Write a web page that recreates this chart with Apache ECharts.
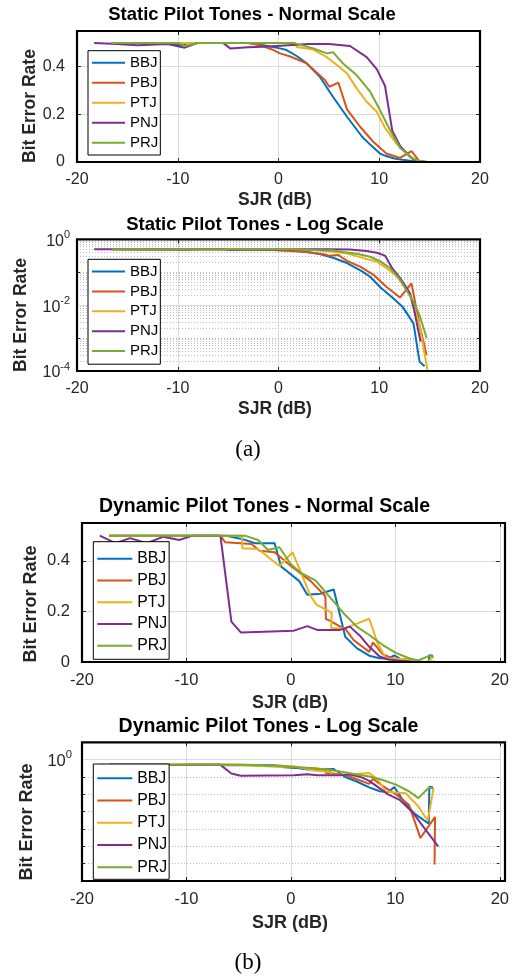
<!DOCTYPE html>
<html><head><meta charset="utf-8">
<script src="https://cdn.jsdelivr.net/npm/echarts@6/dist/echarts.min.js"></script>
<style>html,body{margin:0;padding:0;background:#fff}#c{width:512px;height:978px}</style>
</head><body><div id="c"></div>
<script>
// ---------------- DATA ----------------
const seriesNames = ['BBJ', 'PBJ', 'PTJ', 'PNJ', 'PRJ'];
const xTickValues = [-20, -10, 0, 10, 20];
const linTickValues = [0, 0.2, 0.4];
const linYMax = 0.55;
const staticLogRange = [1e-4, 1];
const staticLogLabelExps = [0, -2, -4];
const dynamicLogRange = [1e-7, 10];
const dynamicLogLabelExps = [0];

// Static pilot tones (SJR dB, BER)
const staticBBJ_sjr = [-16.6, -12, -9.5, -9, -6, -3, -1.5, 0.15, 0.8, 1.8, 2.8, 4.1, 5.4, 6.8, 8.3, 9.1, 10.1, 10.6, 11.5, 12.3, 13.4, 14.0, 14.5];
const staticBBJ_ber = [0.5, 0.5, 0.49, 0.5, 0.5, 0.5, 0.49, 0.477, 0.47, 0.445, 0.414, 0.358, 0.274, 0.19, 0.106, 0.073, 0.035, 0.026, 0.015, 0.009, 0.0028, 0.00019, 0.00014];
const staticPBJ_sjr = [-16.6, -10, -6, -3, -1.8, -0.5, 0.15, 1.1, 2.8, 4.6, 5.05, 5.95, 6.8, 8.1, 9.4, 10.7, 12.06, 13.2, 14.0, 14.7];
const staticPBJ_ber = [0.5, 0.5, 0.5, 0.5, 0.49, 0.47, 0.456, 0.444, 0.414, 0.344, 0.316, 0.333, 0.221, 0.148, 0.085, 0.036, 0.017, 0.046, 0.0025, 0.0003];
const staticPTJ_sjr = [-16.6, -8, 1.64, 1.8, 3.45, 4.8, 5.8, 6.8, 7.75, 8.75, 9.75, 10.6, 11.7, 13.05, 14.0, 14.8];
const staticPTJ_ber = [0.5, 0.5, 0.5, 0.483, 0.472, 0.44, 0.407, 0.372, 0.309, 0.253, 0.211, 0.141, 0.078, 0.022, 0.0025, 0.0001];
const staticPNJ_sjr = [-18.3, -16, -14, -11, -9.3, -8, -5.5, -4.8, -3, -1, 1, 3, 5, 7.1, 8.75, 9.75, 10.57, 11.3, 12.1, 13.05, 13.5, 14.1];
const staticPNJ_ber = [0.5, 0.495, 0.49, 0.495, 0.48, 0.5, 0.5, 0.477, 0.482, 0.485, 0.49, 0.495, 0.495, 0.487, 0.44, 0.39, 0.32, 0.13, 0.065, 0.023, 0.0063, 0.00078];
const staticPRJ_sjr = [-16.6, -10, -9.3, -8, -3, 1.45, 3.45, 4.8, 5.4, 6.4, 7.75, 9.1, 10.07, 11.07, 12.06, 13.4, 14.0, 14.7];
const staticPRJ_ber = [0.5, 0.5, 0.487, 0.5, 0.5, 0.5, 0.477, 0.456, 0.461, 0.414, 0.365, 0.295, 0.218, 0.134, 0.06, 0.0126, 0.005, 0.001];

// Dynamic pilot tones (SJR dB, BER)
const dynBBJ_sjr = [-17.4, -8, -6.3, -4.7, -3.45, -1.56, -0.94, 0.8, 1.57, 2.8, 4.1, 5.2, 6.3, 7.5, 8.5, 9.3, 9.9, 10.8, 11.8, 13.2, 13.25, 13.6];
const dynBBJ_ber = [0.5, 0.5, 0.5, 0.487, 0.47, 0.47, 0.378, 0.32, 0.266, 0.27, 0.287, 0.1, 0.055, 0.025, 0.015, 0.013, 0.026, 0.004, 0.0008, 0.0002, 0.027, 0.025];
const dynPBJ_sjr = [-17.4, -8, -6.75, -6.3, -3.77, -3.0, -1.56, 0, 1.9, 3.3, 3.35, 3.77, 5.3, 6.0, 7.5, 7.85, 8.8, 10.05, 11.3, 12.4, 13.8, 13.75];
const dynPBJ_ber = [0.5, 0.5, 0.5, 0.474, 0.467, 0.44, 0.434, 0.38, 0.32, 0.26, 0.17, 0.163, 0.126, 0.087, 0.04, 0.078, 0.03, 0.01, 0.0025, 0.00003, 0.0005, 0.0000009];
const dynPTJ_sjr = [-17.4, -8, -4.7, -4.65, -3.14, -1.1, 0.16, 1.9, 2.45, 3.9, 3.85, 5.2, 7.5, 8.3, 9.1, 11.0, 12.2, 13.1, 13.65];
const dynPTJ_ber = [0.5, 0.5, 0.5, 0.45, 0.447, 0.38, 0.434, 0.26, 0.227, 0.195, 0.134, 0.134, 0.171, 0.074, 0.014, 0.0115, 0.002, 0.0003, 0.022];
const dynPNJ_sjr = [-18.3, -16.8, -15.4, -13.8, -12.2, -10.7, -9.4, -6.75, -5.7, -4.8, 0.3, 1.57, 2.5, 4.7, 5.65, 6.6, 7.5, 8.5, 9.3, 10.4, 11.6, 12.9, 14.1];
const dynPNJ_ber = [0.5, 0.47, 0.49, 0.47, 0.496, 0.483, 0.5, 0.5, 0.16, 0.117, 0.124, 0.142, 0.127, 0.127, 0.14, 0.104, 0.06, 0.022, 0.01, 0.0048, 0.001, 0.00009, 0.00001];
const dynPRJ_sjr = [-17.4, -4.4, -3.14, -2.2, -1.1, 0, 0.94, 2.35, 3.77, 5.0, 6.3, 7.5, 8.8, 10.05, 11.3, 12.2, 13.2, 13.65];
const dynPRJ_ber = [0.5, 0.5, 0.483, 0.443, 0.454, 0.387, 0.353, 0.323, 0.255, 0.195, 0.14, 0.107, 0.067, 0.036, 0.015, 0.006, 0.024, 0.022];

// ---------------- STYLE / LAYOUT ----------------
const seriesColors = ['#0072BD', '#D95319', '#EDB120', '#7E2F8E', '#77AC30'];
const FONT = '"Liberation Sans", Arial, Helvetica, sans-serif';
const staticSets = [[staticBBJ_sjr, staticBBJ_ber], [staticPBJ_sjr, staticPBJ_ber], [staticPTJ_sjr, staticPTJ_ber], [staticPNJ_sjr, staticPNJ_ber], [staticPRJ_sjr, staticPRJ_ber]];
const dynSets = [[dynBBJ_sjr, dynBBJ_ber], [dynPBJ_sjr, dynPBJ_ber], [dynPTJ_sjr, dynPTJ_ber], [dynPNJ_sjr, dynPNJ_ber], [dynPRJ_sjr, dynPRJ_ber]];

const panels = [
  { grid: {left: 77, top: 31, width: 403, height: 131}, log: false, sets: staticSets,
    title: 'Static Pilot Tones - Normal Scale', tPos: [252, 15], xnPos: [275, 200], ynPos: [30, 106],
    fs: {title: 18.5, name: 17.5, tick: 16, legend: 15}, yMargin: 12,
    legend: {left: 88, top: 50.7, itemWidth: 33, gap: 5, pad: [4.6, 2, 4.7, 4]} },
  { grid: {left: 77, top: 239.3, width: 403, height: 131.7}, log: true, range: staticLogRange, labelExps: staticLogLabelExps, minor2to9: true, sets: staticSets,
    title: 'Static Pilot Tones - Log Scale', tPos: [255, 225], xnPos: [275, 409], ynPos: [21, 315],
    fs: {title: 18.5, name: 17.5, tick: 16, legend: 15}, yMargin: 7,
    legend: {left: 88, top: 259.3, itemWidth: 33, gap: 4.9, pad: [4.7, 2, 5.6, 4]} },
  { grid: {left: 82, top: 523, width: 423, height: 139}, log: false, sets: dynSets,
    title: 'Dynamic Pilot Tones - Normal Scale', tPos: [264.5, 507], xnPos: [290, 703], ynPos: [31, 604],
    fs: {title: 19.5, name: 18, tick: 16.5, legend: 15.8}, yMargin: 12,
    legend: {left: 93.3, top: 541.7, itemWidth: 35, gap: 5.75, pad: [9, 2, 5.6, 4]} },
  { grid: {left: 82, top: 742.3, width: 423, height: 138.7}, log: true, range: dynamicLogRange, labelExps: dynamicLogLabelExps, minor2to9: false, sets: dynSets,
    title: 'Dynamic Pilot Tones - Log Scale', tPos: [268.5, 727], xnPos: [290, 923], ynPos: [27, 822],
    fs: {title: 19.5, name: 18, tick: 16.5, legend: 15.8}, yMargin: 10,
    legend: {left: 93.3, top: 764, itemWidth: 35, gap: 6.25, pad: [6.3, 2, 4, 4]} }
];

const TICK_COLOR = '#262626';
const MAJOR_GRID = '#dcdcdc';
const MINOR_GRID = '#bdbdbd';

const grids = [], xAxes = [], yAxes = [], series = [], legends = [], graphics = [];

function pairs(xs, ys) { return xs.map((x, i) => [x, ys[i]]); }

panels.forEach((p, pi) => {
  grids.push(Object.assign({show: false, containLabel: false}, p.grid));
  const xBase = {
    type: 'value', gridIndex: pi, min: xTickValues[0], max: xTickValues[xTickValues.length - 1],
    interval: xTickValues[1] - xTickValues[0], axisLine: {show: false, onZero: false}
  };
  xAxes.push(Object.assign({}, xBase, {
    position: 'bottom',
    axisTick: {show: true, inside: true, length: 4, lineStyle: {color: TICK_COLOR}},
    axisLabel: {show: true, margin: 10, color: TICK_COLOR, fontSize: p.fs.tick, fontFamily: FONT},
    splitLine: {show: true, lineStyle: {color: MAJOR_GRID, width: 1}}
  }));
  xAxes.push(Object.assign({}, xBase, {
    position: 'top',
    axisTick: {show: true, inside: true, length: 4, lineStyle: {color: TICK_COLOR}},
    axisLabel: {show: false}, splitLine: {show: false}
  }));

  let yBase;
  if (!p.log) {
    yBase = {type: 'value', gridIndex: pi, min: linTickValues[0], max: linYMax,
      interval: linTickValues[1] - linTickValues[0], axisLine: {show: false, onZero: false}};
    yAxes.push(Object.assign({}, yBase, {
      position: 'left',
      axisTick: {show: true, inside: true, length: 4, lineStyle: {color: TICK_COLOR}},
      axisLabel: {show: true, margin: p.yMargin, color: TICK_COLOR, fontSize: p.fs.tick, fontFamily: FONT,
        formatter: v => linTickValues.some(t => Math.abs(t - v) < 1e-9) ? String(+v.toFixed(2)) : ''},
      splitLine: {show: true, lineStyle: {color: MAJOR_GRID, width: 1}}
    }));
  } else {
    yBase = {type: 'log', logBase: 10, gridIndex: pi, min: p.range[0], max: p.range[1], axisLine: {show: false, onZero: false}};
    const labelExps = p.labelExps;
    yAxes.push(Object.assign({}, yBase, {
      position: 'left',
      axisTick: {show: true, inside: true, length: 4, lineStyle: {color: TICK_COLOR}},
      axisLabel: {show: true, margin: p.yMargin, color: TICK_COLOR, fontFamily: FONT,
        formatter: v => {
          const e = Math.round(Math.log10(v));
          return labelExps.indexOf(e) >= 0 ? '{b|10}{s|' + e + '}' : '';
        },
        rich: {
          b: {fontSize: p.fs.tick, fontFamily: FONT, color: TICK_COLOR, lineHeight: 20, verticalAlign: 'bottom'},
          s: {fontSize: p.fs.tick * 0.68, fontFamily: FONT, color: TICK_COLOR, lineHeight: 11, verticalAlign: 'top'}
        }},
      splitLine: {show: false}
    }));
  }
  yAxes.push(Object.assign({}, yBase, {
    position: 'right',
    axisTick: {show: true, inside: true, length: 4, lineStyle: {color: TICK_COLOR}},
    axisLabel: {show: false}, splitLine: {show: false}
  }));

  p.sets.forEach((s, si) => {
    series.push({
      type: 'line', name: seriesNames[si], xAxisIndex: 2 * pi, yAxisIndex: 2 * pi,
      data: pairs(s[0], s[1]), symbol: 'none', showSymbol: false, z: 3,
      lineStyle: {width: 2, color: seriesColors[si]}, itemStyle: {color: seriesColors[si]},
      animation: false, silent: true
    });
  });

  if (p.log) {
    const e0 = Math.round(Math.log10(p.range[0]));
    const e1 = Math.round(Math.log10(p.range[1]));
    const mlData = [];
    for (let e = e0; e < e1; e++) {
      if (e > e0) {
        const major = p.labelExps.indexOf(e) >= 0;
        mlData.push({yAxis: Math.pow(10, e), lineStyle: major ? {type: 'solid', color: MAJOR_GRID, width: 1} : {type: [1, 2], color: MINOR_GRID, width: 1}});
      }
      if (p.minor2to9) {
        for (let m = 2; m <= 9; m++) {
          mlData.push({yAxis: m * Math.pow(10, e), lineStyle: {type: [1, 2], color: MINOR_GRID, width: 1}});
        }
      }
    }
    series.push({
      type: 'line', name: '_grid' + pi, xAxisIndex: 2 * pi, yAxisIndex: 2 * pi, data: [], z: 1, silent: true,
      markLine: {silent: true, animation: false, precision: 15, symbol: ['none', 'none'], z: 1, label: {show: false},
        emphasis: {disabled: true}, data: mlData}
    });
  }

  const lg = p.legend;
  legends.push({
    data: seriesNames.map(n => ({name: n, icon: 'rect'})), orient: 'vertical', left: lg.left, top: lg.top,
    itemWidth: lg.itemWidth, itemHeight: 2, itemGap: lg.gap, padding: lg.pad,
    borderColor: '#000', borderWidth: 1, borderRadius: 0, backgroundColor: '#fff',
    selectedMode: false, z: 5,
    textStyle: {fontSize: p.fs.legend, color: '#000', fontFamily: FONT, lineHeight: 14}
  });

  const g = p.grid;
  graphics.push({type: 'rect', z: 100, silent: true,
    shape: {x: g.left, y: g.top, width: g.width, height: g.height},
    style: {fill: 'none', stroke: '#000', lineWidth: 2.2}});
  graphics.push({type: 'text', z: 100, silent: true, x: p.tPos[0], y: p.tPos[1],
    style: {text: p.title, fill: '#000', font: 'bold ' + p.fs.title + 'px ' + FONT,
      textAlign: 'center', textVerticalAlign: 'middle', align: 'center', verticalAlign: 'middle'}});
  graphics.push({type: 'text', z: 100, silent: true, x: p.xnPos[0], y: p.xnPos[1],
    style: {text: 'SJR (dB)', fill: TICK_COLOR, font: 'bold ' + p.fs.name + 'px ' + FONT,
      textAlign: 'center', textVerticalAlign: 'middle', align: 'center', verticalAlign: 'middle'}});
  graphics.push({type: 'text', z: 100, silent: true, x: p.ynPos[0], y: p.ynPos[1], rotation: Math.PI / 2,
    style: {text: 'Bit Error Rate', fill: TICK_COLOR, font: 'bold ' + p.fs.name + 'px ' + FONT,
      textAlign: 'center', textVerticalAlign: 'middle', align: 'center', verticalAlign: 'middle'}});
});

const captions = [{text: '(a)', x: 248, y: 450}, {text: '(b)', x: 248, y: 963}];
captions.forEach(c => graphics.push({type: 'text', z: 100, silent: true, x: c.x, y: c.y,
  style: {text: c.text, fill: '#000', font: '23px "Liberation Serif", "DejaVu Serif", serif',
    textAlign: 'center', textVerticalAlign: 'middle', align: 'center', verticalAlign: 'middle'}}));

const chart = echarts.init(document.getElementById('c'), null, {renderer: 'canvas'});
chart.setOption({
  animation: false,
  backgroundColor: '#fff',
  grid: grids, xAxis: xAxes, yAxis: yAxes, series: series, legend: legends,
  graphic: {elements: graphics}
});
</script></body></html>
